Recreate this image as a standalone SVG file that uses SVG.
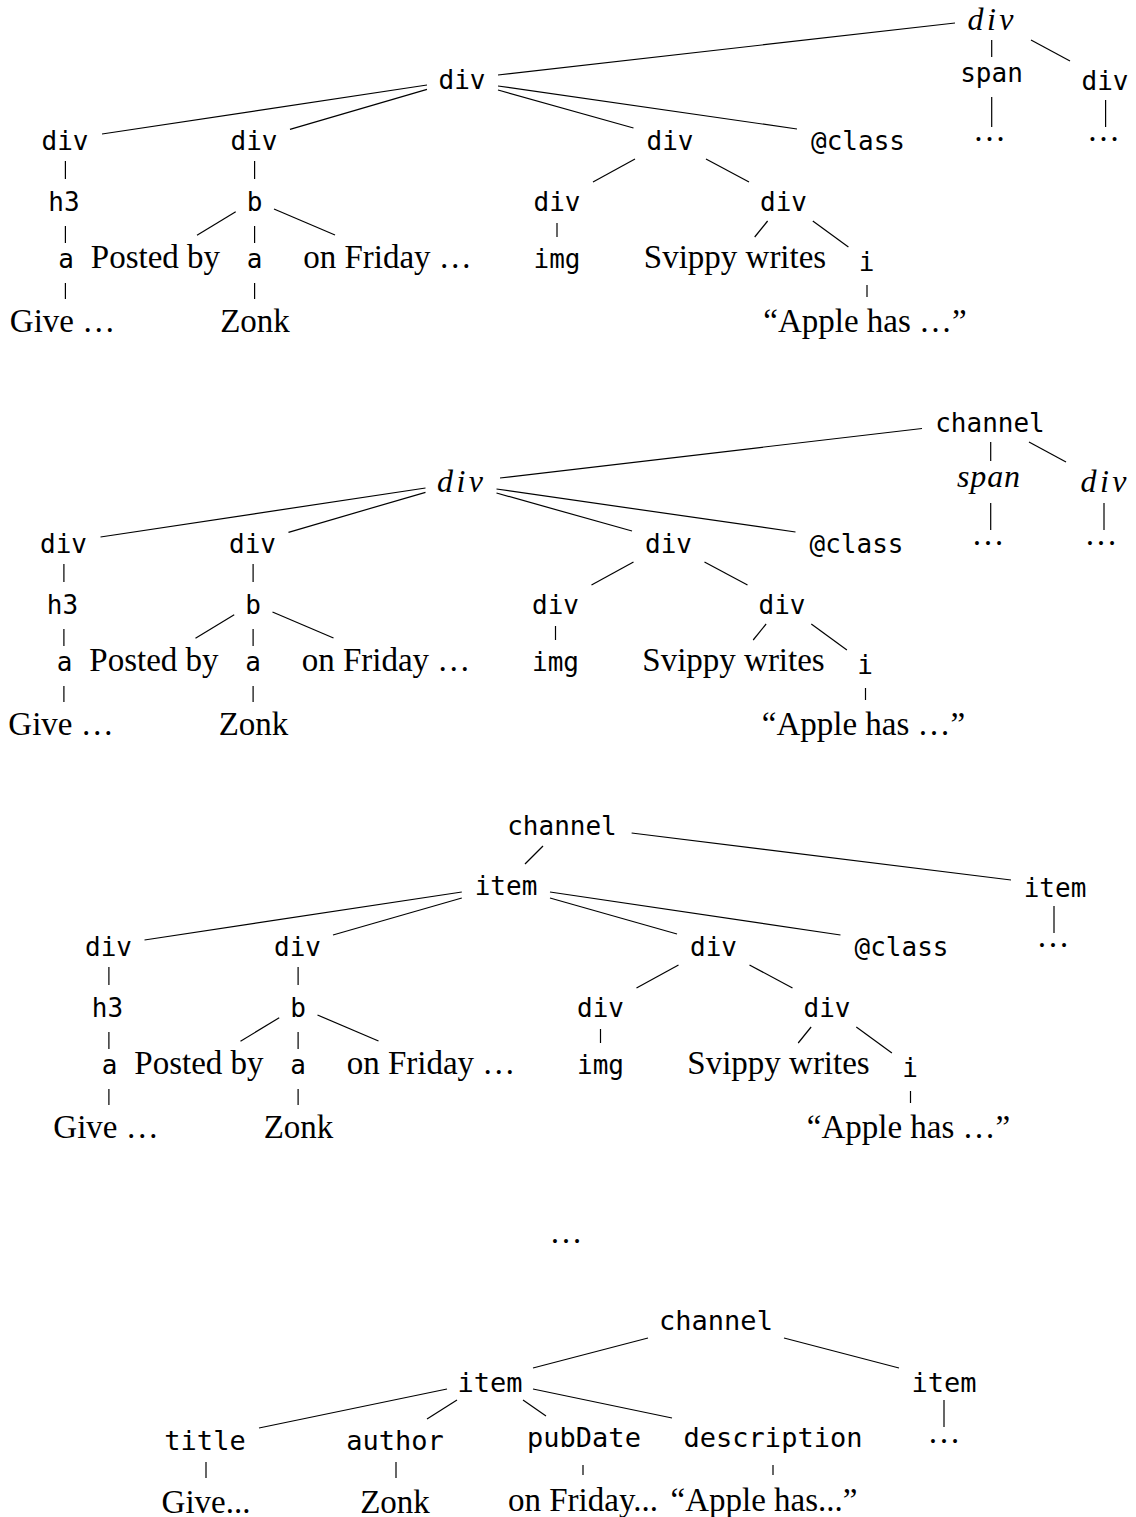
<svg xmlns="http://www.w3.org/2000/svg" width="1136" height="1517" viewBox="0 0 1136 1517">
  <style>
    .m { font-family: "DejaVu Sans Mono", "Liberation Mono", monospace; font-size: 26px; text-anchor: middle; fill: #000; }
    .m4 { font-family: "DejaVu Sans Mono", "Liberation Mono", monospace; font-size: 27px; text-anchor: middle; fill: #000; }
    .r { font-family: "Liberation Serif", serif; font-size: 33px; text-anchor: middle; fill: #000; }
    .it { font-family: "Liberation Serif", serif; font-style: italic; font-size: 32px; text-anchor: middle; fill: #000; }
    .edges line { stroke: #000; stroke-width: 1.2; }
  </style>
  <rect width="1136" height="1517" fill="#fff"/>

  <!-- ============ Tree 1: root is an italic div ============ -->
  <g id="tree1">
    <g id="t1-edges" class="edges">
      <line x1="498" y1="75" x2="955" y2="23"/>
      <line x1="991.7" y1="40" x2="991.7" y2="57"/>
      <line x1="1031" y1="40" x2="1070" y2="61"/>
      <line x1="991.7" y1="97" x2="991.7" y2="127"/>
      <line x1="1105.6" y1="100" x2="1105.6" y2="127"/>
      <!-- body div -->
      <line x1="427" y1="85" x2="102" y2="134"/>
      <line x1="427" y1="89.3" x2="290" y2="129.3"/>
      <line x1="498" y1="90" x2="633.5" y2="128"/>
      <line x1="498" y1="86" x2="797" y2="129"/>
      <line x1="65.4" y1="161" x2="65.4" y2="179"/>
      <line x1="65.4" y1="226" x2="65.4" y2="243"/>
      <line x1="65.4" y1="283" x2="65.4" y2="299"/>
      <line x1="254.6" y1="161" x2="254.6" y2="179"/>
      <line x1="235.7" y1="211.7" x2="197" y2="235.3"/>
      <line x1="254.6" y1="226" x2="254.6" y2="243"/>
      <line x1="274" y1="209" x2="335" y2="235"/>
      <line x1="254.6" y1="283" x2="254.6" y2="299"/>
      <line x1="635" y1="159" x2="593" y2="182"/>
      <line x1="706" y1="159" x2="749" y2="182"/>
      <line x1="557" y1="223" x2="557" y2="237"/>
      <line x1="767.6" y1="221" x2="754.7" y2="237"/>
      <line x1="812.8" y1="221" x2="848.4" y2="247"/>
      <line x1="867" y1="285" x2="867" y2="297"/>
    </g>
    <g id="t1-root"><text class="it" x="990.5" y="30" textLength="46">div</text></g>
    <g id="t1-span"><text class="m" x="991.5" y="82">span</text></g>
    <g id="t1-div-r"><text class="m" x="1105" y="90">div</text></g>
    <g id="t1-span-more"><text class="r" x="989.5" y="141">…</text></g>
    <g id="t1-div-r-more"><text class="r" x="1103.5" y="141">…</text></g>
    <g id="t1-div"><text class="m" x="462" y="89">div</text></g>
    <g id="t1-div-a"><text class="m" x="65" y="150">div</text></g>
    <g id="t1-div-b"><text class="m" x="254" y="150">div</text></g>
    <g id="t1-div-c"><text class="m" x="670" y="150">div</text></g>
    <g id="t1-class"><text class="m" x="858" y="150">@class</text></g>
    <g id="t1-h3"><text class="m" x="64" y="211">h3</text></g>
    <g id="t1-b"><text class="m" x="254.5" y="211">b</text></g>
    <g id="t1-div-d"><text class="m" x="557" y="211">div</text></g>
    <g id="t1-div-e"><text class="m" x="783.5" y="211">div</text></g>
    <g id="t1-a1"><text class="m" x="66" y="268">a</text></g>
    <g id="t1-posted"><text class="r" x="155.5" y="268">Posted by</text></g>
    <g id="t1-a2"><text class="m" x="254.5" y="268">a</text></g>
    <g id="t1-friday"><text class="r" x="387.5" y="268">on Friday …</text></g>
    <g id="t1-img"><text class="m" x="557" y="268">img</text></g>
    <g id="t1-svippy"><text class="r" x="735" y="268">Svippy writes</text></g>
    <g id="t1-i"><text class="m" x="866.5" y="271">i</text></g>
    <g id="t1-give"><text class="r" x="62.5" y="332">Give …</text></g>
    <g id="t1-zonk"><text class="r" x="255" y="332">Zonk</text></g>
    <g id="t1-apple"><text class="r" x="865" y="332">“Apple has …”</text></g>
  </g>

  <!-- ============ Tree 2: root is channel ============ -->
  <g id="tree2">
    <g id="t2-top-edges" class="edges">
      <line x1="500" y1="478" x2="922" y2="428.5"/>
      <line x1="990.7" y1="442" x2="990.7" y2="461"/>
      <line x1="1029" y1="442" x2="1066" y2="462"/>
      <line x1="990.7" y1="503" x2="990.7" y2="530"/>
      <line x1="1104" y1="503" x2="1104" y2="530"/>
    </g>
    <g id="t2-channel"><text class="m" x="990" y="432">channel</text></g>
    <g id="t2-span"><text class="it" x="988.5" y="487" textLength="63">span</text></g>
    <g id="t2-div-r"><text class="it" x="1103.5" y="492" textLength="46">div</text></g>
    <g id="t2-span-more"><text class="r" x="988" y="545">…</text></g>
    <g id="t2-div-r-more"><text class="r" x="1101" y="545">…</text></g>
    <g transform="translate(-1.5,403)">
      <g id="t2-edges" class="edges">
        <line x1="427" y1="85" x2="102" y2="134"/>
        <line x1="427" y1="89.3" x2="290" y2="129.3"/>
        <line x1="498" y1="90" x2="633.5" y2="128"/>
        <line x1="498" y1="86" x2="797" y2="129"/>
        <line x1="65.4" y1="161" x2="65.4" y2="179"/>
        <line x1="65.4" y1="226" x2="65.4" y2="243"/>
        <line x1="65.4" y1="283" x2="65.4" y2="299"/>
        <line x1="254.6" y1="161" x2="254.6" y2="179"/>
        <line x1="235.7" y1="211.7" x2="197" y2="235.3"/>
        <line x1="254.6" y1="226" x2="254.6" y2="243"/>
        <line x1="274" y1="209" x2="335" y2="235"/>
        <line x1="254.6" y1="283" x2="254.6" y2="299"/>
        <line x1="635" y1="159" x2="593" y2="182"/>
        <line x1="706" y1="159" x2="749" y2="182"/>
        <line x1="557" y1="223" x2="557" y2="237"/>
        <line x1="767.6" y1="221" x2="754.7" y2="237"/>
        <line x1="812.8" y1="221" x2="848.4" y2="247"/>
        <line x1="867" y1="285" x2="867" y2="297"/>
      </g>
      <g id="t2-div"><text class="it" x="461.5" y="89" textLength="46">div</text></g>
      <g id="t2-div-a"><text class="m" x="65" y="150">div</text></g>
      <g id="t2-div-b"><text class="m" x="254" y="150">div</text></g>
      <g id="t2-div-c"><text class="m" x="670" y="150">div</text></g>
      <g id="t2-class"><text class="m" x="858" y="150">@class</text></g>
      <g id="t2-h3"><text class="m" x="64" y="211">h3</text></g>
      <g id="t2-b"><text class="m" x="254.5" y="211">b</text></g>
      <g id="t2-div-d"><text class="m" x="557" y="211">div</text></g>
      <g id="t2-div-e"><text class="m" x="783.5" y="211">div</text></g>
      <g id="t2-a1"><text class="m" x="66" y="268">a</text></g>
      <g id="t2-posted"><text class="r" x="155.5" y="268">Posted by</text></g>
      <g id="t2-a2"><text class="m" x="254.5" y="268">a</text></g>
      <g id="t2-friday"><text class="r" x="387.5" y="268">on Friday …</text></g>
      <g id="t2-img"><text class="m" x="557" y="268">img</text></g>
      <g id="t2-svippy"><text class="r" x="735" y="268">Svippy writes</text></g>
      <g id="t2-i"><text class="m" x="866.5" y="271">i</text></g>
      <g id="t2-give"><text class="r" x="62.5" y="332">Give …</text></g>
      <g id="t2-zonk"><text class="r" x="255" y="332">Zonk</text></g>
      <g id="t2-apple"><text class="r" x="865" y="332">“Apple has …”</text></g>
    </g>
  </g>

  <!-- ============ Tree 3: channel with item children ============ -->
  <g id="tree3">
    <g id="t3-top-edges" class="edges">
      <line x1="543" y1="846" x2="525" y2="864"/>
      <line x1="631.6" y1="833" x2="1011" y2="880"/>
      <line x1="1054" y1="906" x2="1054" y2="933"/>
    </g>
    <g id="t3-channel"><text class="m" x="562" y="835">channel</text></g>
    <g id="t3-item-r"><text class="m" x="1055" y="897">item</text></g>
    <g id="t3-item-r-more"><text class="r" x="1053" y="947">…</text></g>
    <g transform="translate(43.5,806)">
      <g id="t3-edges" class="edges">
        <line x1="418.3" y1="86" x2="101" y2="134"/>
        <line x1="418.3" y1="92" x2="289.5" y2="129"/>
        <line x1="506.5" y1="92" x2="633.5" y2="128"/>
        <line x1="506.5" y1="86" x2="797" y2="129"/>
        <line x1="65.4" y1="161" x2="65.4" y2="179"/>
        <line x1="65.4" y1="226" x2="65.4" y2="243"/>
        <line x1="65.4" y1="283" x2="65.4" y2="299"/>
        <line x1="254.6" y1="161" x2="254.6" y2="179"/>
        <line x1="235.7" y1="211.7" x2="197" y2="235.3"/>
        <line x1="254.6" y1="226" x2="254.6" y2="243"/>
        <line x1="274" y1="209" x2="335" y2="235"/>
        <line x1="254.6" y1="283" x2="254.6" y2="299"/>
        <line x1="635" y1="159" x2="593" y2="182"/>
        <line x1="706" y1="159" x2="749" y2="182"/>
        <line x1="557" y1="223" x2="557" y2="237"/>
        <line x1="767.6" y1="221" x2="754.7" y2="237"/>
        <line x1="812.8" y1="221" x2="848.4" y2="247"/>
        <line x1="867" y1="285" x2="867" y2="297"/>
      </g>
      <g id="t3-item"><text class="m" x="462.5" y="89">item</text></g>
      <g id="t3-div-a"><text class="m" x="65" y="150">div</text></g>
      <g id="t3-div-b"><text class="m" x="254" y="150">div</text></g>
      <g id="t3-div-c"><text class="m" x="670" y="150">div</text></g>
      <g id="t3-class"><text class="m" x="858" y="150">@class</text></g>
      <g id="t3-h3"><text class="m" x="64" y="211">h3</text></g>
      <g id="t3-b"><text class="m" x="254.5" y="211">b</text></g>
      <g id="t3-div-d"><text class="m" x="557" y="211">div</text></g>
      <g id="t3-div-e"><text class="m" x="783.5" y="211">div</text></g>
      <g id="t3-a1"><text class="m" x="66" y="268">a</text></g>
      <g id="t3-posted"><text class="r" x="155.5" y="268">Posted by</text></g>
      <g id="t3-a2"><text class="m" x="254.5" y="268">a</text></g>
      <g id="t3-friday"><text class="r" x="387.5" y="268">on Friday …</text></g>
      <g id="t3-img"><text class="m" x="557" y="268">img</text></g>
      <g id="t3-svippy"><text class="r" x="735" y="268">Svippy writes</text></g>
      <g id="t3-i"><text class="m" x="866.5" y="271">i</text></g>
      <g id="t3-give"><text class="r" x="62.5" y="332">Give …</text></g>
      <g id="t3-zonk"><text class="r" x="255" y="332">Zonk</text></g>
      <g id="t3-apple"><text class="r" x="865" y="332">“Apple has …”</text></g>
    </g>
  </g>

  <!-- intermediate steps elided -->
  <g id="gap"><text class="r" x="566" y="1243">…</text></g>

  <!-- ============ Tree 4: final RSS structure ============ -->
  <g id="tree4">
    <g id="t4-edges" class="edges">
      <line x1="648" y1="1338" x2="533" y2="1368"/>
      <line x1="784" y1="1338" x2="899" y2="1368"/>
      <line x1="447" y1="1389" x2="259" y2="1428"/>
      <line x1="457" y1="1400" x2="427" y2="1419"/>
      <line x1="523" y1="1400" x2="546" y2="1416"/>
      <line x1="533" y1="1389" x2="672" y2="1418"/>
      <line x1="944" y1="1400" x2="944" y2="1427"/>
      <line x1="206" y1="1462" x2="206" y2="1478"/>
      <line x1="396" y1="1462" x2="396" y2="1478"/>
      <line x1="583" y1="1465" x2="583" y2="1475"/>
      <line x1="773" y1="1465" x2="773" y2="1475"/>
    </g>
    <g id="t4-channel"><text class="m4" x="716" y="1330">channel</text></g>
    <g id="t4-item"><text class="m4" x="490" y="1392">item</text></g>
    <g id="t4-item-r"><text class="m4" x="944" y="1392">item</text></g>
    <g id="t4-item-r-more"><text class="r" x="944" y="1443">…</text></g>
    <g id="t4-title"><text class="m4" x="205" y="1450">title</text></g>
    <g id="t4-author"><text class="m4" x="395" y="1450">author</text></g>
    <g id="t4-pubdate"><text class="m4" x="584" y="1447">pubDate</text></g>
    <g id="t4-description"><text class="m4" x="773" y="1447">description</text></g>
    <g id="t4-give"><text class="r" x="206" y="1513">Give...</text></g>
    <g id="t4-zonk"><text class="r" x="395" y="1513">Zonk</text></g>
    <g id="t4-friday"><text class="r" x="583" y="1511">on Friday...</text></g>
    <g id="t4-apple"><text class="r" x="764" y="1511">“Apple has...”</text></g>
  </g>
</svg>
